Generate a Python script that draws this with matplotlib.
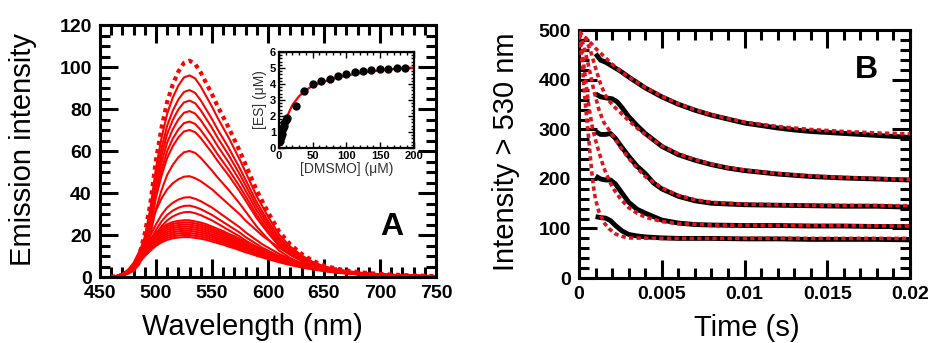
import matplotlib
matplotlib.use("Agg")
import matplotlib.pyplot as plt
from matplotlib.ticker import MultipleLocator

plt.rcParams['font.family'] = ['Liberation Sans', 'DejaVu Sans']

# ---- panel A: emission spectra -------------------------------------------
wavelength = [460, 465, 470, 475, 480, 485, 490, 495, 500, 505, 510, 515, 520,
              525, 530, 535, 540, 545, 550, 555, 560, 565, 570, 575, 580, 585,
              590, 595, 600, 610, 620, 630, 640, 650, 660, 670, 680, 690, 700,
              720, 750]

# normalised band shapes (high, middle and low titration points)
shape_narrow = [0, 0.005, 0.01, 0.025, 0.05, 0.10, 0.20, 0.34, 0.54, 0.69, 0.81,
                0.89, 0.95, 0.99, 1.0, 0.985, 0.945, 0.895, 0.845, 0.79, 0.74,
                0.69, 0.635, 0.58, 0.52, 0.46, 0.40, 0.35, 0.30, 0.21, 0.15,
                0.107, 0.075, 0.053, 0.04, 0.03, 0.023, 0.018, 0.014, 0.009, 0.004]
shape_mid = [0, 0.01, 0.03, 0.07, 0.14, 0.25, 0.38, 0.52, 0.66, 0.78, 0.87,
             0.93, 0.97, 0.995, 1.0, 0.98, 0.95, 0.91, 0.87, 0.82, 0.77, 0.72,
             0.67, 0.62, 0.56, 0.51, 0.46, 0.41, 0.37, 0.29, 0.22, 0.17, 0.125,
             0.095, 0.07, 0.055, 0.04, 0.032, 0.025, 0.016, 0.008]
shape_wide = [0, 0.02, 0.05, 0.12, 0.22, 0.36, 0.52, 0.66, 0.78, 0.87, 0.93,
              0.97, 0.99, 1.0, 1.0, 0.98, 0.96, 0.93, 0.89, 0.85, 0.81, 0.76,
              0.72, 0.67, 0.62, 0.58, 0.53, 0.49, 0.45, 0.37, 0.30, 0.24, 0.19,
              0.15, 0.115, 0.09, 0.07, 0.055, 0.045, 0.03, 0.015]

peak_heights = [96, 89, 84, 79, 74, 70, 60, 48, 38, 34, 31, 27, 26, 25, 24,
                23, 22, 21, 20, 19]
peak_shapes = ['narrow'] * 7 + ['mid'] * 4 + ['wide'] * 9
final_peak = 103  # saturated spectrum (dashed)

# inset: binding isotherm
dmsmo = [2, 3, 4, 5, 6, 7, 8, 10, 12, 25, 37, 50, 62, 75, 87, 100, 112, 125,
         137, 150, 162, 175, 187]
es_conc = [0.42, 0.7, 0.9, 1.1, 1.25, 1.4, 1.55, 1.75, 1.9, 2.63, 3.54, 4.0,
           4.17, 4.3, 4.5, 4.6, 4.72, 4.8, 4.86, 4.92, 4.93, 4.98, 5.02]
fit_dmsmo = [0, 2, 5, 10, 15, 20, 30, 40, 50, 60, 75, 90, 100, 125, 150, 175, 200]
fit_es = [0, 0.55, 1.1, 1.75, 2.25, 2.7, 3.25, 3.62, 3.9, 4.05, 4.27, 4.43,
          4.53, 4.71, 4.85, 4.95, 5.03]

# ---- panel B: stopped-flow traces ----------------------------------------
trace_t = [
    [0.001, 0.0013, 0.0016, 0.002, 0.0025, 0.003, 0.0035, 0.004, 0.005, 0.006,
     0.007, 0.008, 0.009, 0.01, 0.011, 0.012, 0.013, 0.014, 0.016, 0.018, 0.02],
    [0.001, 0.0013, 0.0016, 0.002, 0.0023, 0.0026, 0.003, 0.0035, 0.004, 0.005,
     0.006, 0.007, 0.008, 0.009, 0.01, 0.012, 0.014, 0.016, 0.018, 0.02],
    [0.001, 0.0013, 0.0016, 0.0019, 0.0022, 0.0025, 0.003, 0.0035, 0.004,
     0.0045, 0.005, 0.006, 0.007, 0.008, 0.01, 0.012, 0.014, 0.016, 0.018, 0.02],
    [0.001, 0.0013, 0.0016, 0.0019, 0.0022, 0.0025, 0.003, 0.0035, 0.004,
     0.005, 0.006, 0.007, 0.008, 0.01, 0.012, 0.014, 0.016, 0.018, 0.02],
    [0.001, 0.0013, 0.0016, 0.0019, 0.0022, 0.0026, 0.003, 0.0035, 0.004,
     0.005, 0.006, 0.008, 0.01, 0.012, 0.014, 0.016, 0.018, 0.02],
]
trace_v = [
    [453, 440, 436, 428, 418, 406, 395, 384, 366, 351, 339, 329, 321, 313,
     308, 303, 299, 296, 292, 288, 284],
    [372, 366, 364, 362, 356, 344, 326, 308, 292, 266, 249, 238, 229, 222,
     217, 210, 205, 202, 200, 198],
    [296, 290, 290, 292, 282, 268, 246, 226, 211, 192, 180, 165, 156, 151,
     148, 147, 146, 145, 145, 143],
    [206, 200, 198, 198, 190, 176, 153, 139, 131, 117, 111, 108, 107, 106,
     106, 105, 105, 104, 104],
    [124, 122, 121, 116, 106, 95, 88, 85, 83, 81, 80, 80, 79, 79, 78, 78, 78, 77],
]

fit_t = [
    [0, 0.0005, 0.001, 0.0015, 0.002, 0.0025, 0.003, 0.004, 0.005, 0.006,
     0.007, 0.008, 0.009, 0.01, 0.012, 0.014, 0.016, 0.018, 0.02],
    [0, 0.0004, 0.0007, 0.001, 0.0013, 0.0016, 0.002, 0.0025, 0.003, 0.0035,
     0.004, 0.005, 0.006, 0.007, 0.008, 0.009, 0.01, 0.012, 0.014, 0.016,
     0.018, 0.02],
    [0, 0.0003, 0.0006, 0.0009, 0.0012, 0.0015, 0.002, 0.0025, 0.003, 0.0035,
     0.004, 0.005, 0.006, 0.007, 0.008, 0.01, 0.014, 0.02],
    [0, 0.0002, 0.0004, 0.0006, 0.0008, 0.001, 0.0012, 0.0015, 0.002, 0.0025,
     0.003, 0.0035, 0.004, 0.005, 0.006, 0.008, 0.012, 0.02],
    [0, 0.0001, 0.0002, 0.0003, 0.0004, 0.0005, 0.0006, 0.0007, 0.0008, 0.0009,
     0.001, 0.0012, 0.0015, 0.0018, 0.0022, 0.0026, 0.003, 0.005, 0.01, 0.02],
]
fit_v = [
    [498, 482, 464, 448, 432, 418, 406, 385, 367, 352, 340, 330, 322, 315,
     306, 300, 296, 293, 291],
    [496, 484, 458, 424, 392, 368, 350, 334, 318, 303, 290, 267, 251, 239,
     230, 223, 218, 211, 206, 203, 201, 199],
    [494, 468, 425, 378, 340, 314, 290, 264, 242, 222, 205, 182, 167, 158,
     153, 149, 147, 146],
    [492, 455, 400, 345, 305, 278, 255, 222, 184, 160, 142, 131, 123, 114,
     110, 107, 106, 105],
    [490, 465, 430, 385, 345, 310, 275, 238, 204, 178, 158, 134, 112, 100,
     89, 84, 81, 80, 80, 80],
]

RED = '#ff0000'
FIT_RED = '#e0141c'


def style_axes(ax, major, minor, width, pad):
    ax.tick_params(which='both', direction='in', top=True, right=True,
                   width=width, colors='black')
    ax.tick_params(which='major', length=major, pad=pad)
    ax.tick_params(which='minor', length=minor)
    for sp in ax.spines.values():
        sp.set_linewidth(width)


fig = plt.figure(figsize=(9.29, 3.43), dpi=100)

# ---- A ----
axA = fig.add_axes([0.1076, 0.1924, 0.3617, 0.7347])
shapes = {'narrow': shape_narrow, 'mid': shape_mid, 'wide': shape_wide}
for h, s in zip(peak_heights, peak_shapes):
    axA.plot(wavelength, [h * f for f in shapes[s]], color=RED, lw=1.5)
axA.plot(wavelength, [final_peak * f for f in shape_narrow], color=RED, lw=3,
         linestyle=(0, (1, 1)))
axA.set_xlim(450, 750)
axA.set_ylim(0, 120)
axA.set_xticks(range(450, 751, 50), [str(v) for v in range(450, 751, 50)],
               fontsize=14, fontweight='bold')
axA.set_yticks(range(0, 121, 20), [str(v) for v in range(0, 121, 20)],
               fontsize=14, fontweight='bold')
axA.xaxis.set_minor_locator(MultipleLocator(10))
axA.yaxis.set_minor_locator(MultipleLocator(5))
style_axes(axA, 13, 7, 2.2, 6)
axA.text(0.869, 0.198, 'A', transform=axA.transAxes, fontsize=23,
         fontweight='bold', ha='center', va='center')
fig.text(23 / 929, 1 - 150 / 343, 'Emission intensity', rotation=90,
         fontsize=21, ha='center', va='center')
fig.text(252 / 929, 1 - 335 / 343, 'Wavelength (nm)', fontsize=21,
         ha='center', va='baseline')

# ---- inset ----
axI = fig.add_axes([0.3003, 0.5685, 0.1453, 0.2799])
axI.set_facecolor('white')
axI.plot(fit_dmsmo, fit_es, color=RED, lw=1.6, zorder=2)
axI.plot(dmsmo, es_conc, 'o', color='black', ms=5, zorder=3)
axI.set_xlim(0, 200)
axI.set_ylim(0, 6)
axI.set_xticks(range(0, 201, 50), [str(v) for v in range(0, 201, 50)],
               fontsize=8, fontweight='bold')
axI.set_yticks(range(0, 7), [str(v) for v in range(0, 7)],
               fontsize=8, fontweight='bold')
axI.xaxis.set_minor_locator(MultipleLocator(10))
axI.yaxis.set_minor_locator(MultipleLocator(0.2))
style_axes(axI, 4.5, 2.5, 1.0, 2)
for sp in axI.spines.values():
    sp.set_linewidth(1.6)
axI.set_xlabel('[DMSMO] (\u03bcM)', fontsize=10, color='#333333', labelpad=1)
axI.set_ylabel('[ES] (\u03bcM)', fontsize=10, color='#333333', labelpad=2)

# ---- B ----
axB = fig.add_axes([0.6233, 0.1895, 0.3563, 0.7216])
for t, v in zip(trace_t, trace_v):
    axB.plot(t, v, color='black', lw=3.5, solid_capstyle='butt', zorder=2)
for t, v in zip(fit_t, fit_v):
    axB.plot(t, v, color=FIT_RED, lw=2.6, linestyle=(0, (1.2, 0.9)), zorder=3)
axB.set_xlim(0, 0.02)
axB.set_ylim(0, 500)
axB.set_xticks([0, 0.005, 0.01, 0.015, 0.02],
               ['0', '0.005', '0.01', '0.015', '0.02'],
               fontsize=14, fontweight='bold')
axB.set_yticks(range(0, 501, 100), [str(v) for v in range(0, 501, 100)],
               fontsize=14, fontweight='bold')
axB.xaxis.set_minor_locator(MultipleLocator(0.001))
axB.yaxis.set_minor_locator(MultipleLocator(20))
style_axes(axB, 13, 7, 2.2, 6)
axB.text(0.869, 0.839, 'B', transform=axB.transAxes, fontsize=23,
         fontweight='bold', ha='center', va='center')
fig.text(506 / 929, 1 - 152 / 343, 'Intensity > 530 nm', rotation=90,
         fontsize=21, ha='center', va='center')
fig.text(747 / 929, 1 - 336 / 343, 'Time (s)', fontsize=21,
         ha='center', va='baseline')

fig.savefig('out.png', dpi=100)
